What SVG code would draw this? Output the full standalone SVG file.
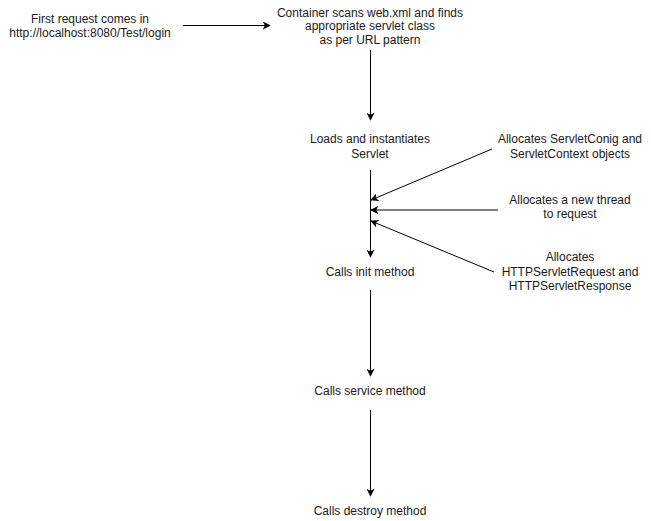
<svg xmlns="http://www.w3.org/2000/svg" width="651" height="521" viewBox="0 0 651 521">
<style>
text{font-family:"Liberation Sans",Arial,sans-serif;font-size:12px;fill:#1a1a1a;text-anchor:middle}
.c{stroke:#000;stroke-width:1;fill:none;marker-end:url(#a)}
</style>
<defs>
<marker id="a" viewBox="0 0 10 10" refX="9" refY="5" markerWidth="8" markerHeight="8" markerUnits="userSpaceOnUse" orient="auto">
<path d="M0,0 L10,5 L0,10 L2.5,5 Z" fill="#000"/>
</marker>
</defs>
<rect width="651" height="521" fill="#fff"/>
<g id="connectors">
<line class="c" x1="183" y1="25.5" x2="270" y2="25.5"/>
<line class="c" x1="370.5" y1="50" x2="370.5" y2="120"/>
<line class="c" x1="370.5" y1="170" x2="370.5" y2="257"/>
<line class="c" x1="492" y1="149" x2="371" y2="200"/>
<line class="c" x1="498" y1="210" x2="371" y2="210"/>
<line class="c" x1="494" y1="272" x2="371" y2="221"/>
<line class="c" x1="370.5" y1="290" x2="370.5" y2="376"/>
<line class="c" x1="370.5" y1="410" x2="370.5" y2="496"/>
</g>
<g id="n1"><text x="90" y="22.5">First request comes in</text><text x="90" y="37">http://localhost:8080/Test/login</text></g>
<g id="n2"><text x="370" y="16.5">Container scans web.xml and finds</text><text x="370" y="30">appropriate servlet class</text><text x="370" y="43.5">as per URL pattern</text></g>
<g id="n3"><text x="370" y="142.5">Loads and instantiates</text><text x="370" y="157.5">Servlet</text></g>
<g id="n4"><text x="570" y="142.5">Allocates ServletConig and</text><text x="570" y="157.5">ServletContext objects</text></g>
<g id="n5"><text x="570" y="203.5">Allocates a new thread</text><text x="570" y="218">to request</text></g>
<g id="n6"><text x="570" y="261">Allocates</text><text x="570" y="276">HTTPServletRequest and</text><text x="570" y="290">HTTPServletResponse</text></g>
<g id="n7"><text x="370" y="276">Calls init method</text></g>
<g id="n8"><text x="370" y="394.5">Calls service method</text></g>
<g id="n9"><text x="370" y="514.5">Calls destroy method</text></g>
</svg>
